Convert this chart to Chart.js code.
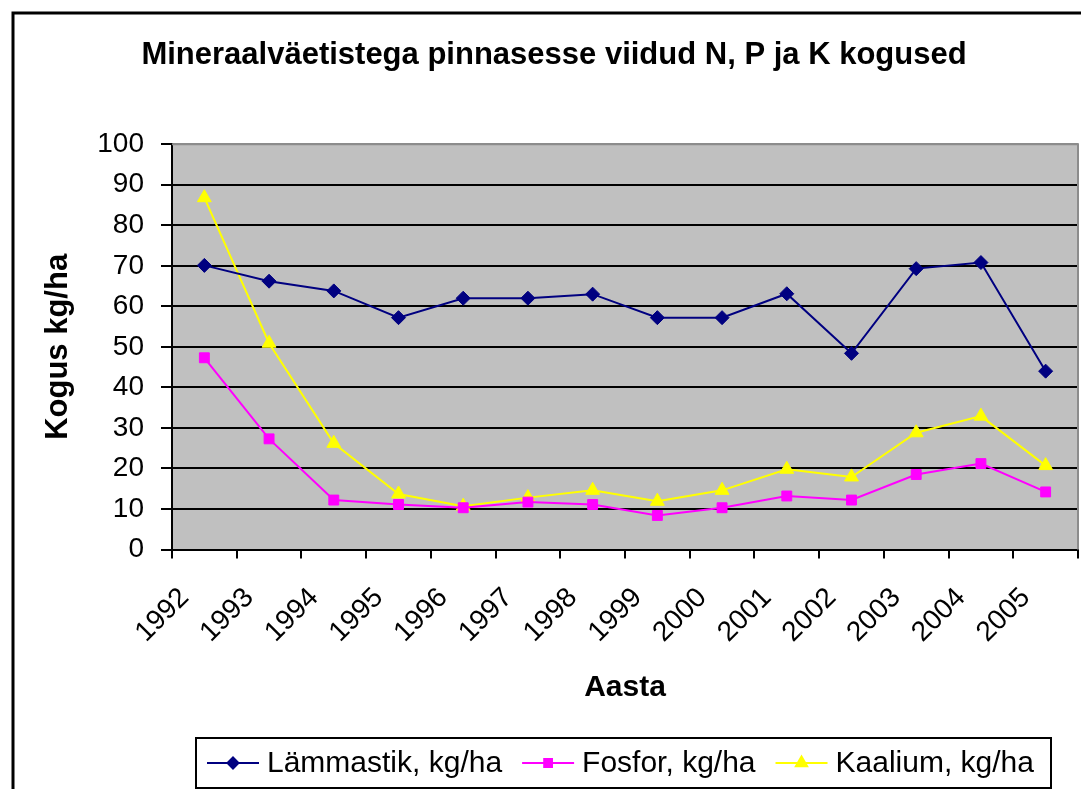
<!DOCTYPE html>
<html lang="et">
<head>
    <meta charset="UTF-8">
    <title>Mineraalväetistega pinnasesse viidud N, P ja K kogused</title>
    <style>
        * { margin: 0; padding: 0; box-sizing: border-box; }
        body { background-color: #fff; overflow: hidden; }
        #chart { display: block; }
    </style>
</head>
<body>
    <canvas id="chart" width="1081" height="789"></canvas>

    <script src="https://cdn.jsdelivr.net/npm/chart.js@4.4.1/dist/chart.umd.min.js"></script>
    <script>
        const years = ['1992', '1993', '1994', '1995', '1996', '1997', '1998', '1999', '2000', '2001', '2002', '2003', '2004', '2005'];
        const lammastik = [70.1, 66.2, 63.8, 57.2, 62, 62, 63, 57.2, 57.2, 63.1, 48.4, 69.3, 70.8, 44];
        const fosfor = [47.3, 27.3, 12.2, 11.1, 10.3, 11.7, 11.1, 8.4, 10.3, 13.2, 12.2, 18.5, 21.2, 14.2];
        const kaalium = [86.8, 50.9, 26.2, 13.7, 10.7, 12.8, 14.6, 11.9, 14.6, 19.8, 17.9, 28.8, 32.9, 20.7];
        const seriesNames = ['Lämmastik, kg/ha', 'Fosfor, kg/ha', 'Kaalium, kg/ha'];
        const yTicks = [0, 10, 20, 30, 40, 50, 60, 70, 80, 90, 100];

        const FONT = '"Liberation Sans", Arial, sans-serif';

        // plot background, outer frame and plot border (Excel look)
        const frame = {
            id: 'frame',
            beforeDraw(chart) {
                const { ctx, chartArea: a } = chart;
                ctx.save();
                ctx.fillStyle = '#fff';
                ctx.fillRect(0, 0, chart.width, chart.height);
                ctx.strokeStyle = '#000';
                ctx.lineWidth = 3;
                ctx.strokeRect(13, 13, chart.width + 20, chart.height + 20);
                ctx.fillStyle = '#c0c0c0';
                ctx.fillRect(a.left, a.top, a.right - a.left, a.bottom - a.top);
                ctx.restore();
            },
            beforeDatasetsDraw(chart) {
                const { ctx, chartArea: a } = chart;
                ctx.save();
                ctx.strokeStyle = '#8c8c8c';
                ctx.lineWidth = 2;
                ctx.beginPath();
                ctx.moveTo(a.left, a.top);
                ctx.lineTo(a.right, a.top);
                ctx.lineTo(a.right, a.bottom);
                ctx.stroke();
                ctx.restore();
            }
        };

        // boxed legend with line + marker samples
        const boxLegend = {
            id: 'boxLegend',
            afterDraw(chart) {
                const { ctx } = chart;
                const box = { left: 196, top: 738, right: 1051, bottom: 788 };
                ctx.save();
                ctx.strokeStyle = '#000';
                ctx.lineWidth = 2;
                ctx.strokeRect(box.left, box.top, box.right - box.left, box.bottom - box.top);
                ctx.font = '30px ' + FONT;
                ctx.textBaseline = 'middle';
                ctx.textAlign = 'left';
                const cy = (box.top + box.bottom) / 2;
                let x = box.left + 11;
                chart.data.datasets.forEach(ds => {
                    ctx.strokeStyle = ds.borderColor;
                    ctx.lineWidth = 2;
                    ctx.beginPath();
                    ctx.moveTo(x, cy);
                    ctx.lineTo(x + 52, cy);
                    ctx.stroke();
                    Chart.helpers.drawPoint(ctx, {
                        pointStyle: ds.pointStyle,
                        radius: ds.pointRadius - 1.5,
                        borderWidth: 1
                    }, x + 26, cy);
                    ctx.fillStyle = ds.pointBackgroundColor;
                    ctx.fill();
                    ctx.fillStyle = '#000';
                    ctx.fillText(ds.label, x + 60, cy + 1);
                    x += 60 + ctx.measureText(ds.label).width + 20;
                });
                ctx.restore();
            }
        };

        function lineSet(label, data, color, style, radius) {
            return {
                label: label,
                data: data,
                borderColor: color,
                backgroundColor: color,
                borderWidth: 2,
                pointStyle: style,
                pointRadius: radius,
                pointBackgroundColor: color,
                pointBorderColor: color,
                pointBorderWidth: 1,
                tension: 0
            };
        }

        new Chart(document.getElementById('chart'), {
            type: 'line',
            data: {
                labels: years,
                datasets: [
                    lineSet(seriesNames[0], lammastik, '#000080', 'rectRot', 7),
                    lineSet(seriesNames[1], fosfor, '#ff00ff', 'rect', 7),
                    lineSet(seriesNames[2], kaalium, '#ffff00', 'triangle', 8)
                ]
            },
            options: {
                responsive: false,
                animation: false,
                devicePixelRatio: 1,
                layout: { autoPadding: false, padding: { left: 30, right: 3, top: 0, bottom: 79 } },
                plugins: {
                    legend: { display: false },
                    tooltip: { enabled: false },
                    title: {
                        display: true,
                        text: 'Mineraalväetistega pinnasesse viidud N, P ja K kogused',
                        color: '#000',
                        font: { family: FONT, size: 31, weight: 'bold' },
                        padding: { top: 37, bottom: 70 }
                    }
                },
                scales: {
                    x: {
                        offset: true,
                        grid: { offset: true, drawOnChartArea: false, drawTicks: true, tickLength: 9, color: '#000', lineWidth: 2 },
                        border: { color: '#000', width: 2 },
                        ticks: {
                            color: '#000',
                            font: { family: FONT, size: 28 },
                            minRotation: 45,
                            maxRotation: 45,
                            padding: 3,
                            autoSkip: false,
                            // trailing en spaces push the rotated label down-left like Excel
                            callback: (v, i) => years[i] + '\u2002\u2002'
                        },
                        title: { display: true, text: 'Aasta', color: '#000', font: { family: FONT, size: 30, weight: 'bold' }, padding: { top: 0, bottom: 4 } },
                        afterFit(scale) {
                            scale.height = 160.5;
                            scale.paddingRight = 0;
                            scale.paddingLeft = 0;
                        }
                    },
                    y: {
                        min: 0,
                        max: 100,
                        afterBuildTicks(scale) { scale.ticks = yTicks.map(v => ({ value: v })); },
                        grid: {
                            color: ctx => ctx.tick && ctx.tick.value === 100 ? '#8c8c8c' : '#000',
                            lineWidth: 2,
                            tickLength: 11,
                            tickColor: '#000'
                        },
                        border: { color: '#000', width: 2 },
                        ticks: { color: '#000', font: { family: FONT, size: 28 }, padding: 17 },
                        title: { display: true, text: 'Kogus kg/ha', color: '#000', font: { family: FONT, size: 31, weight: 'bold' }, padding: { top: 10, bottom: 0 } },
                        afterFit(scale) { scale.width = 142; }
                    }
                }
            },
            plugins: [frame, boxLegend]
        });
    </script>
</body>
</html>
